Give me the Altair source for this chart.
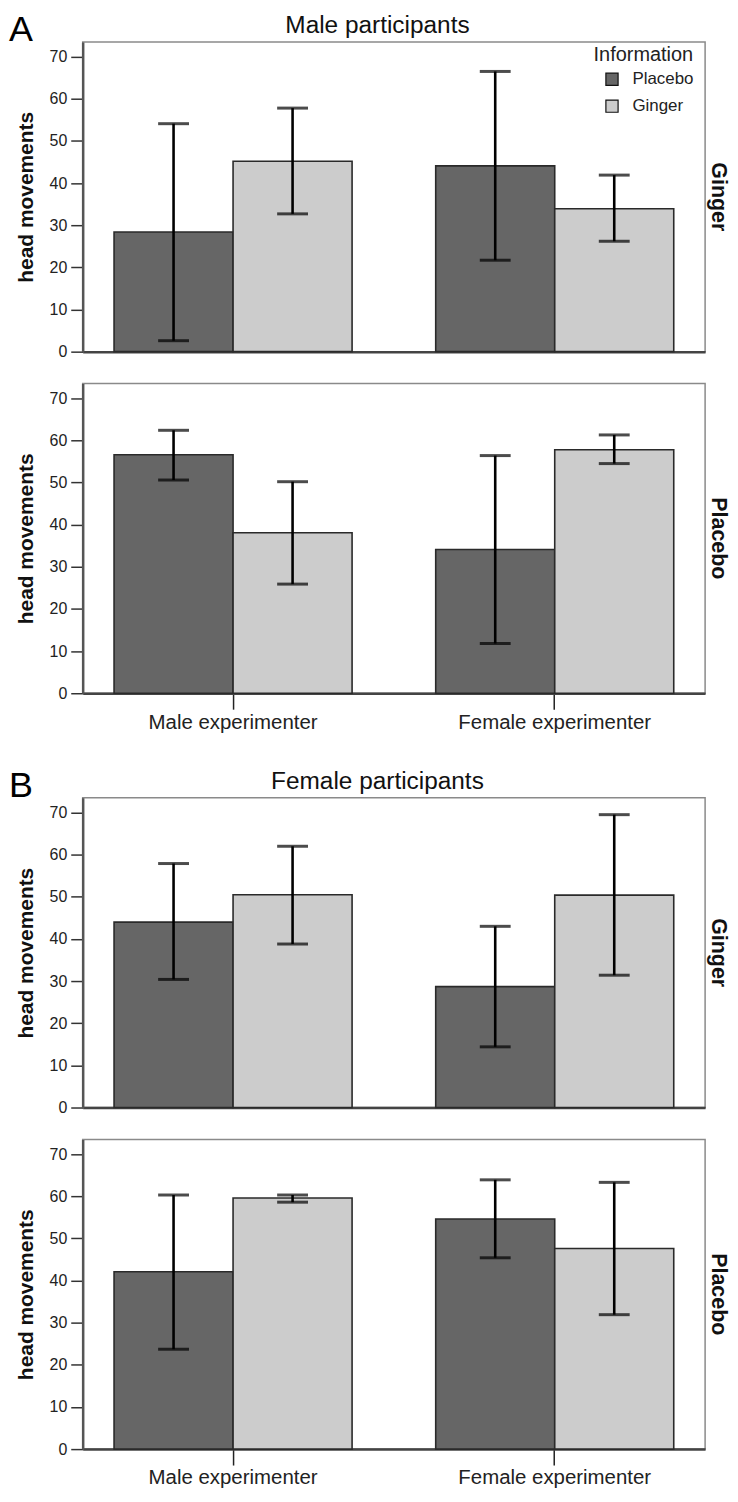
import altair as alt
import pandas as pd

sections = ["Male participants", "Female participants"]
letters = ["A", "B"]
rows = ["Ginger", "Placebo"]
experimenters = ["Male experimenter", "Female experimenter"]
information = ["Placebo", "Ginger"]
colors = ["#666666", "#cccccc"]
y_ticks = [0, 10, 20, 30, 40, 50, 60, 70]

# order inside each panel: Male/Placebo, Male/Ginger, Female/Placebo, Female/Ginger
mean_A_ginger = [28.4, 45.2, 44.1, 33.9]
low_A_ginger = [2.6, 32.7, 21.7, 26.2]
high_A_ginger = [54.1, 57.8, 66.5, 41.9]

mean_A_placebo = [56.6, 38.1, 34.1, 57.8]
low_A_placebo = [50.6, 25.9, 11.8, 54.5]
high_A_placebo = [62.4, 50.2, 56.4, 61.3]

mean_B_ginger = [44.0, 50.5, 28.7, 50.4]
low_B_ginger = [30.4, 38.8, 14.4, 31.4]
high_B_ginger = [57.9, 62.0, 43.0, 69.5]

mean_B_placebo = [42.1, 59.6, 54.6, 47.6]
low_B_placebo = [23.7, 58.6, 45.4, 31.9]
high_B_placebo = [60.3, 60.3, 63.9, 63.3]

panels = {
    ("Male participants", "Ginger"): (mean_A_ginger, low_A_ginger, high_A_ginger),
    ("Male participants", "Placebo"): (mean_A_placebo, low_A_placebo, high_A_placebo),
    ("Female participants", "Ginger"): (mean_B_ginger, low_B_ginger, high_B_ginger),
    ("Female participants", "Placebo"): (mean_B_placebo, low_B_placebo, high_B_placebo),
}

records = []
for (sec, row), (m, lo, hi) in panels.items():
    i = 0
    for exp in experimenters:
        for inf in information:
            records.append({"section": sec, "row": row, "exp": exp, "info": inf,
                            "mean": m[i], "low": lo[i], "high": hi[i]})
            i += 1
df = pd.DataFrame(records)

W, H = 625, 311
FONT = "Liberation Sans"


def panel(sec, row, letter=None, legend=False, bottom=False):
    base = alt.Chart(df).transform_filter(
        (alt.datum.section == sec) & (alt.datum.row == row)
    )
    if bottom:
        xaxis = alt.Axis(title=None, labelAngle=0, labelFontSize=20.5, labelColor="#222",
                         labelPadding=3, labelLimit=400, ticks=True, tickSize=16,
                         tickColor="#222", tickWidth=1.5, domainColor="#444",
                         domainWidth=2.5)
    else:
        xaxis = alt.Axis(title=None, labels=False, ticks=False,
                         domainColor="#444", domainWidth=2.5)
    x = alt.X("exp:N", sort=experimenters,
              scale=alt.Scale(paddingInner=0.26, paddingOuter=0.0975), axis=xaxis)
    xo = alt.XOffset("info:N", sort=information,
                     scale=alt.Scale(paddingInner=0, paddingOuter=0))
    yscale = alt.Scale(domain=[0, 73.5], nice=False, zero=True)
    yaxis = alt.Axis(values=y_ticks, title="head movements", titleFontSize=21,
                     titleFontWeight="bold", titleColor="#111", titleX=-46,
                     titleY=H / 2, titleBaseline="bottom", titleAlign="center",
                     labelFontSize=16, labelColor="#222", labelPadding=4,
                     tickSize=12, tickColor="#333", tickWidth=1.5,
                     domainColor="#555", domainWidth=2.5, grid=False)
    if legend:
        leg = alt.Legend(title="Information", orient="none", legendX=513, legendY=3,
                         titleFontSize=20, titleFontWeight="normal", titleColor="#222",
                         titlePadding=6, labelFontSize=17, labelColor="#222",
                         symbolType="square", symbolSize=150, symbolStrokeColor="#111",
                         symbolStrokeWidth=1.2, symbolOffset=10, rowPadding=8,
                         labelOffset=12)
    else:
        leg = None
    color = alt.Color("info:N", scale=alt.Scale(domain=information, range=colors),
                      legend=leg)

    bars = base.mark_bar(stroke="#2a2a2a", strokeWidth=1.6, opacity=1).encode(
        x=x, xOffset=xo, y=alt.Y("mean:Q", scale=yscale, axis=yaxis), color=color
    )
    rules = base.mark_rule(color="black", strokeWidth=2.6).encode(
        x=x, xOffset=xo, y=alt.Y("low:Q", scale=yscale, axis=yaxis), y2="high:Q"
    )
    cap_lo = base.mark_tick(color="black", thickness=3, size=31).encode(
        x=x, xOffset=xo, y=alt.Y("low:Q", scale=yscale, axis=yaxis)
    )
    cap_hi = base.mark_tick(color="black", thickness=3, size=31).encode(
        x=x, xOffset=xo, y=alt.Y("high:Q", scale=yscale, axis=yaxis)
    )
    row_lbl = alt.Chart(alt.Data(values=[{"t": row}])).mark_text(
        angle=90, align="center", baseline="middle", fontSize=21.5, fontWeight="bold",
        font=FONT, color="#111"
    ).encode(text="t:N", x=alt.value(W + 13), y=alt.value(H / 2))

    layers = [bars, rules, cap_lo, cap_hi, row_lbl]
    if letter is not None:
        letter_t = alt.Chart(alt.Data(values=[{"t": letter}])).mark_text(
            align="left", baseline="alphabetic", fontSize=36, font=FONT, color="#000"
        ).encode(text="t:N", x=alt.value(-74), y=alt.value(-1))
        title_t = alt.Chart(alt.Data(values=[{"t": sec}])).mark_text(
            align="center", baseline="alphabetic", fontSize=24.5, font=FONT, color="#111"
        ).encode(text="t:N", x=alt.value(296), y=alt.value(-9))
        layers += [letter_t, title_t]
    return alt.layer(*layers).properties(width=W, height=H)


p1 = panel("Male participants", "Ginger", letter="A", legend=True)
p2 = panel("Male participants", "Placebo", bottom=True)
p3 = panel("Female participants", "Ginger", letter="B")
p4 = panel("Female participants", "Placebo", bottom=True)

secA = (alt.vconcat(p1, p2, spacing=22)
        .resolve_scale(color="independent").resolve_legend(color="independent"))
secB = (alt.vconcat(p3, p4, spacing=22)
        .resolve_scale(color="independent").resolve_legend(color="independent"))

chart = (
    alt.vconcat(secA, secB, spacing=33)
    .resolve_scale(color="independent")
    .resolve_legend(color="independent")
    .properties(padding={"left": 0, "top": 0, "right": 0, "bottom": 0})
    .configure(font=FONT)
    .configure_view(stroke="#8a8a8a", strokeWidth=1.5)
)

chart.save("out.html", embed_options={"renderer": "svg", "actions": False})
